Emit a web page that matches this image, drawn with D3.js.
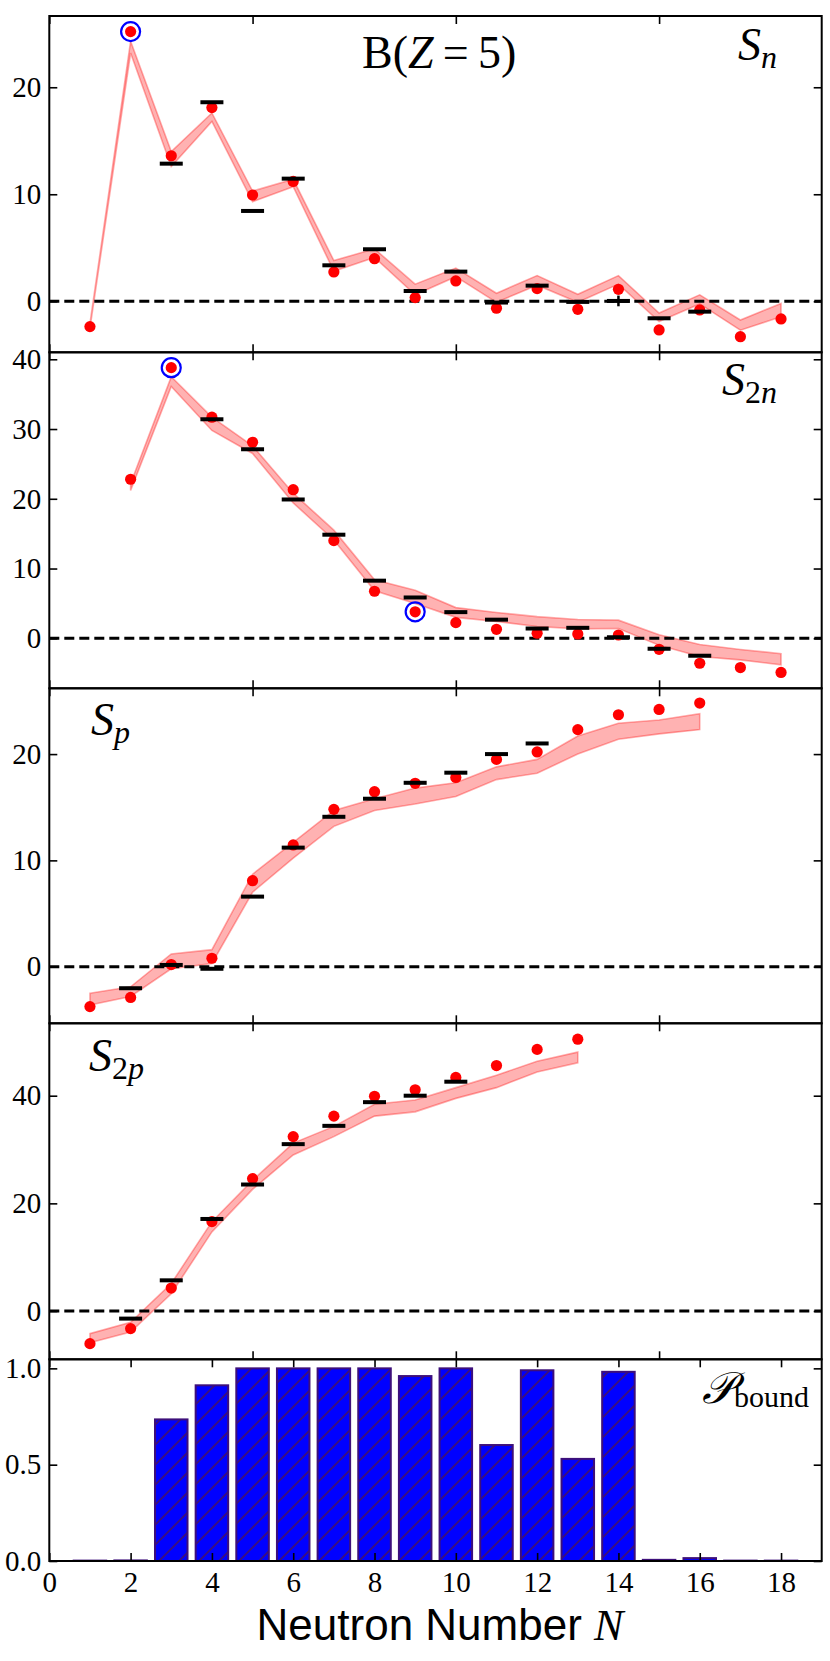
<!DOCTYPE html>
<html>
<head>
<meta charset="utf-8">
<script src="https://cdn.jsdelivr.net/npm/d3@7"></script>
<style>
  body { margin: 0; background: #fff; }
  svg text { font-family: "Liberation Serif", "DejaVu Serif", serif; }
</style>
</head>
<body>
<div id="chart"></div>
<script>
// ---- S_n (one-neutron separation energy) ----
const snN      = [1, 2, 3, 4, 5, 6, 7, 8, 9, 10, 11, 12, 13, 14, 15, 16, 17, 18];
const snTheory = [-2.37, 25.2, 13.6, 18.1, 9.93, 11.2, 2.74, 3.98, 0.34, 1.9, -0.65, 1.18, -0.75, 1.12, -2.68, -0.81, -3.31, -1.65];
const snLow    = [-2.5, 23.2, 12.6, 16.8, 9.3, 10.7, 2.8, 4.1, 0.6, 2.3, -0.1, 1.5, -0.1, 1.6, -1.9, -0.25, -2.7, -1.45];
const snHigh   = [-2.1, 24.3, 14.0, 17.6, 10.3, 11.4, 3.8, 4.9, 1.6, 3.1, 0.75, 2.4, 0.65, 2.4, -1.1, 0.6, -1.75, -0.2];
const snExpN   = [3, 4, 5, 6, 7, 8, 9, 10, 11, 12, 13, 14, 15, 16];
const snExp    = [12.86, 18.6, 8.44, 11.46, 3.36, 4.86, 0.96, 2.77, -0.12, 1.46, -0.06, 0.03, -1.59, -0.97];
const snExpErr = [0, 0, 0, 0, 0, 0, 0, 0, 0, 0, 0, 0.5, 0, 0];
const snCircled = [2];

// ---- S_2n ----
const s2nN      = [2, 3, 4, 5, 6, 7, 8, 9, 10, 11, 12, 13, 14, 15, 16, 17, 18];
const s2nTheory = [22.8, 38.8, 31.7, 28.1, 21.3, 14.0, 6.74, 3.8, 2.24, 1.29, 0.72, 0.62, 0.47, -1.58, -3.58, -4.2, -4.9];
const s2nLow    = [21.2, 36.1, 29.8, 26.5, 19.4, 14.1, 6.8, 5.0, 3.0, 2.4, 1.7, 1.35, 1.4, -1.0, -2.6, -3.1, -3.8];
const s2nHigh   = [22.2, 37.5, 31.7, 27.6, 20.8, 15.5, 8.4, 6.9, 4.4, 3.7, 3.1, 2.7, 2.6, 0.5, -0.9, -1.6, -2.2];
const s2nExpN   = [4, 5, 6, 7, 8, 9, 10, 11, 12, 13, 14, 15, 16];
const s2nExp    = [31.4, 27.1, 19.9, 14.85, 8.26, 5.85, 3.75, 2.67, 1.4, 1.5, 0.15, -1.5, -2.5];
const s2nCircled = [3, 9];

// ---- S_p ----
const spN      = [1, 2, 3, 4, 5, 6, 7, 8, 9, 10, 11, 12, 13, 14, 15, 16];
const spTheory = [-3.76, -2.9, 0.2, 0.79, 8.09, 11.45, 14.8, 16.46, 17.25, 17.8, 19.5, 20.2, 22.3, 23.7, 24.2, 24.8];
const spLow    = [-3.6, -2.8, -0.2, 0.3, 7.0, 10.2, 13.2, 14.7, 15.3, 16.0, 17.6, 18.2, 20.0, 21.4, 21.9, 22.3];
const spHigh   = [-2.5, -1.9, 1.2, 1.6, 8.7, 11.7, 14.7, 15.8, 16.8, 17.3, 18.8, 19.5, 21.7, 22.9, 23.2, 23.8];
const spExpN   = [2, 3, 4, 5, 6, 7, 8, 9, 10, 11, 12];
const spExp    = [-2.03, 0.16, -0.2, 6.59, 11.2, 14.1, 15.8, 17.3, 18.25, 20.0, 21.0];

// ---- S_2p ----
const s2pN      = [1, 2, 3, 4, 5, 6, 7, 8, 9, 10, 11, 12, 13];
const s2pTheory = [-6.06, -3.27, 4.27, 16.6, 24.6, 32.4, 36.2, 39.9, 41.1, 43.4, 45.6, 48.6, 50.5];
const s2pLow    = [-5.9, -3.9, 3.2, 14.7, 22.6, 29.0, 32.4, 36.2, 37.0, 39.5, 41.5, 44.4, 46.1];
const s2pHigh   = [-4.2, -2.1, 5.1, 16.6, 24.3, 31.2, 34.3, 38.4, 39.2, 41.5, 43.8, 46.4, 48.1];
const s2pExpN   = [2, 3, 4, 5, 6, 7, 8, 9, 10];
const s2pExp    = [-1.41, 5.7, 17.1, 23.5, 31.0, 34.4, 38.8, 40.0, 42.6];

// ---- bound probability ----
const boundN = [1, 2, 3, 4, 5, 6, 7, 8, 9, 10, 11, 12, 13, 14, 15, 16, 17, 18];
const pBound = [0.002, 0.003, 0.735, 0.912, 1.0, 1.0, 1.0, 1.0, 0.96, 1.0, 0.602, 0.99, 0.53, 0.982, 0.006, 0.015, 0.002, 0.002];

const xTicksTop = [0, 5, 10, 15];
const xTicksBottom = [0, 2, 4, 6, 8, 10, 12, 14, 16, 18];

const width = 830, height = 1661;
const left = 49.3, right = 821.7;

const svg = d3.select("#chart").append("svg")
    .attr("width", width)
    .attr("height", height);

// hatch for the bars
const defs = svg.append("defs");
const hatch = defs.append("pattern")
    .attr("id", "hatch")
    .attr("patternUnits", "userSpaceOnUse")
    .attr("width", 20).attr("height", 20);
hatch.append("rect").attr("width", 20).attr("height", 20).attr("fill", "#0000ff");
hatch.append("path")
    .attr("d", "M0,20 L20,0 M-5,5 L5,-5 M15,25 L25,15")
    .attr("stroke", "#3d0f7a").attr("stroke-width", 1.8);

let x = d3.scaleLinear().domain([0, 19]).range([left, right]);

function zip(ns, a, b) {
    return ns.map((n, i) => ({ n: n, v: a[i], w: b ? b[i] : null }));
}

const panels = [
    { top: 16, bottom: 352.3, domain: [-4.77, 26.66], ticks: [0, 10, 20],
      band: snN.map((n, i) => ({ n: n, lo: snLow[i], hi: snHigh[i] })),
      dots: zip(snN, snTheory), exp: zip(snExpN, snExp, snExpErr), circled: snCircled },
    { top: 352.3, bottom: 688.3, domain: [-7.17, 41.0], ticks: [0, 10, 20, 30, 40],
      band: s2nN.map((n, i) => ({ n: n, lo: s2nLow[i], hi: s2nHigh[i] })),
      dots: zip(s2nN, s2nTheory), exp: zip(s2nExpN, s2nExp), circled: s2nCircled },
    { top: 688.3, bottom: 1023.3, domain: [-5.33, 26.19], ticks: [0, 10, 20],
      band: spN.map((n, i) => ({ n: n, lo: spLow[i], hi: spHigh[i] })),
      dots: zip(spN, spTheory), exp: zip(spExpN, spExp), circled: [] },
    { top: 1023.3, bottom: 1359.3, domain: [-8.97, 53.45], ticks: [0, 20, 40],
      band: s2pN.map((n, i) => ({ n: n, lo: s2pLow[i], hi: s2pHigh[i] })),
      dots: zip(s2pN, s2pTheory), exp: zip(s2pExpN, s2pExp), circled: [] }
];

function styleAxis(g, fontSize) {
    g.attr("font-family", '"Liberation Serif", serif');
    g.select(".domain").remove();
    g.selectAll(".tick line").attr("stroke", "#000").attr("stroke-width", 1.6);
    g.selectAll(".tick text")
        .attr("fill", "#000")
        .style("font-family", '"Liberation Serif", serif')
        .style("font-size", fontSize + "px");
}

function drawFrame(p, y, tickFmt, xTicks, bottomLabels) {
    let g = svg.append("g");

    g.append("g")
        .attr("transform", `translate(${left},0)`)
        .call(d3.axisLeft(y).tickValues(p.ticks).tickSize(-8).tickPadding(8).tickFormat(tickFmt))
        .call(a => styleAxis(a, 29));

    g.append("g")
        .attr("transform", `translate(${right},0)`)
        .call(d3.axisRight(y).tickValues(p.ticks).tickSize(-8).tickFormat(""))
        .call(a => styleAxis(a, 29));

    g.append("g")
        .attr("transform", `translate(0,${p.top})`)
        .call(d3.axisTop(x).tickValues(xTicks).tickSize(-8).tickFormat(""))
        .call(a => styleAxis(a, 29));

    g.append("g")
        .attr("transform", `translate(0,${p.bottom})`)
        .call(d3.axisBottom(x).tickValues(xTicks).tickSize(-8).tickPadding(10)
            .tickFormat(bottomLabels ? d3.format("d") : ""))
        .call(a => styleAxis(a, 29));

    g.append("rect")
        .attr("x", left).attr("y", p.top)
        .attr("width", right - left).attr("height", p.bottom - p.top)
        .attr("fill", "none").attr("stroke", "#000").attr("stroke-width", 2);
}

panels.forEach(p => {
    let y = d3.scaleLinear().domain(p.domain).range([p.bottom, p.top]);
    let g = svg.append("g");

    // theory band
    let area = d3.area()
        .x(d => x(d.n))
        .y0(d => y(d.lo))
        .y1(d => y(d.hi));
    g.append("path")
        .datum(p.band)
        .attr("d", area)
        .attr("fill", "#ff0000").attr("fill-opacity", 0.3)
        .attr("stroke", "#ff0000").attr("stroke-opacity", 0.32).attr("stroke-width", 1.6);

    // zero line
    g.append("line")
        .attr("x1", left).attr("x2", right)
        .attr("y1", y(0)).attr("y2", y(0))
        .attr("stroke", "#000").attr("stroke-width", 3)
        .attr("stroke-dasharray", "10,5");

    // blue rings
    g.selectAll(".ring")
        .data(p.dots.filter(d => p.circled.includes(d.n)))
        .enter().append("circle")
        .attr("cx", d => x(d.n)).attr("cy", d => y(d.v))
        .attr("r", 9.5)
        .attr("fill", "none").attr("stroke", "#0000ff").attr("stroke-width", 2.2);

    // theory points
    g.selectAll(".dot")
        .data(p.dots)
        .enter().append("circle")
        .attr("cx", d => x(d.n)).attr("cy", d => y(d.v))
        .attr("r", 5.6)
        .attr("fill", "#ff0000");

    // experimental values
    g.selectAll(".exp")
        .data(p.exp)
        .enter().append("line")
        .attr("x1", d => x(d.n) - 11.5).attr("x2", d => x(d.n) + 11.5)
        .attr("y1", d => y(d.v)).attr("y2", d => y(d.v))
        .attr("stroke", "#000").attr("stroke-width", 4);

    g.selectAll(".err")
        .data(p.exp.filter(d => d.w))
        .enter().append("line")
        .attr("x1", d => x(d.n)).attr("x2", d => x(d.n))
        .attr("y1", d => y(d.v - d.w)).attr("y2", d => y(d.v + d.w))
        .attr("stroke", "#000").attr("stroke-width", 2.5);

    drawFrame(p, y, d3.format("d"), xTicksTop, false);
});

// ---- bottom panel: bound probability ----
const pb = { top: 1359.3, bottom: 1561, domain: [0, 1.047], ticks: [0, 0.5, 1.0] };
let yb = d3.scaleLinear().domain(pb.domain).range([pb.bottom, pb.top]);

svg.append("g").selectAll("rect")
    .data(boundN.map((n, i) => ({ n: n, v: pBound[i] })))
    .enter().append("rect")
    .attr("x", d => x(d.n - 0.4))
    .attr("width", d => x(d.n + 0.4) - x(d.n - 0.4))
    .attr("y", d => yb(d.v))
    .attr("height", d => yb(0) - yb(d.v))
    .attr("fill", "url(#hatch)")
    .attr("stroke", "#3d0f7a").attr("stroke-width", 2);

drawFrame(pb, yb, d3.format(".1f"), xTicksBottom, true);

// ---- labels ----
svg.append("text")
    .attr("x", 362).attr("y", 68)
    .style("font-size", "46px")
    .call(t => {
        t.append("tspan").text("B(");
        t.append("tspan").style("font-style", "italic").text("Z");
        t.append("tspan").text("\u2009=\u20095)");
    });

function sLabel(xPos, yPos, sub) {
    let t = svg.append("text").attr("x", xPos).attr("y", yPos);
    t.append("tspan").style("font-style", "italic").style("font-size", "46px").text("S");
    let s = t.append("tspan").attr("dy", 8).style("font-size", "32px");
    sub.forEach(part => {
        s.append("tspan").style("font-style", part.it ? "italic" : "normal").text(part.t);
    });
}
sLabel(738, 60, [{ t: "n", it: true }]);
sLabel(722, 395, [{ t: "2", it: false }, { t: "n", it: true }]);
sLabel(91, 735, [{ t: "p", it: true }]);
sLabel(89, 1071, [{ t: "2", it: false }, { t: "p", it: true }]);

let pLabel = svg.append("text").attr("x", 702).attr("y", 1403);
pLabel.append("tspan").style("font-size", "44px").style("font-style", "italic").text("\u{1D4AB}");
pLabel.append("tspan").attr("dy", 4).style("font-size", "30px").text("bound");

let xl = svg.append("text")
    .attr("x", 440).attr("y", 1640)
    .attr("text-anchor", "middle")
    .style("font-family", '"Liberation Sans", sans-serif')
    .style("font-size", "44px");
xl.append("tspan").text("Neutron Number ");
xl.append("tspan").style("font-family", '"Liberation Serif", serif').style("font-style", "italic").text("N");
</script>
</body>
</html>
